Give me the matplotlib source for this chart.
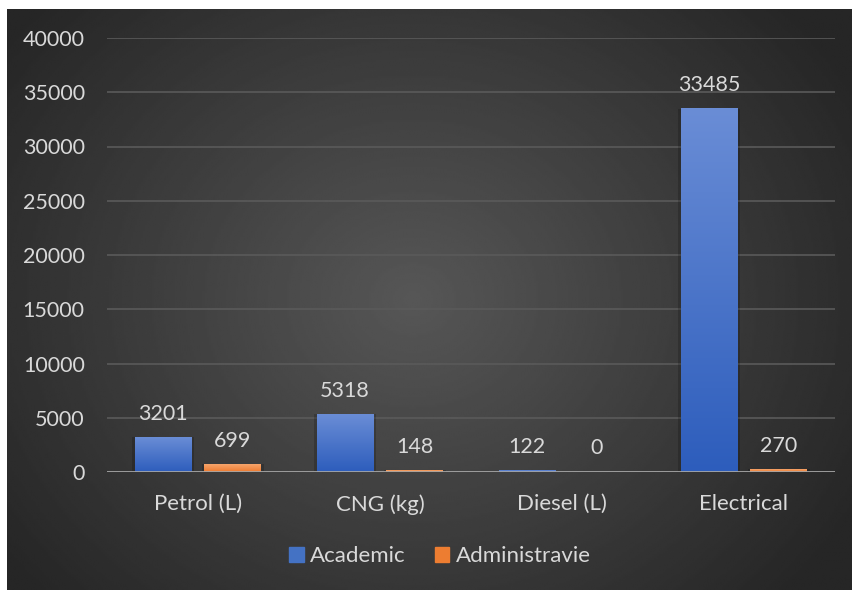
import numpy as np
import matplotlib.pyplot as plt
from matplotlib.colors import LinearSegmentedColormap
from matplotlib.patches import Rectangle

categories = ['Petrol (L)', 'CNG (kg)', 'Diesel (L)', 'Electrical']
academic = [3201, 5318, 122, 33485]
administrative = [699, 148, 0, 270]
series_names = ['Academic', 'Administravie']
y_ticks = [0, 5000, 10000, 15000, 20000, 25000, 30000, 35000, 40000]

TEXT = '#d9d9d9'
plt.rcParams['font.family'] = ['Lato', 'DejaVu Sans']

fig = plt.figure(figsize=(8.53, 5.90), dpi=100)
fig.patch.set_facecolor('white')

# dark radial background of the chart area
bg = fig.add_axes([7 / 853, 0, 845 / 853, 581 / 590])
yy, xx = np.mgrid[0:1:300j, 0:1:400j]
r = np.sqrt(((xx - 0.48) / 0.6) ** 2 + ((yy - 0.5) / 0.75) ** 2)
r = np.clip(r, 0, 1)
shade = 0.34 - 0.19 * r
bg.imshow(shade, cmap='gray', vmin=0, vmax=1, aspect='auto',
          extent=[0, 1, 0, 1], interpolation='bilinear')
bg.set_axis_off()

ax = fig.add_axes([107 / 853, 0.2, 728 / 853, (472 - 38) / 590])
ax.set_facecolor('none')

blue_cmap = LinearSegmentedColormap.from_list('b', ['#2d5dbc', '#6a8dd6'])
orange_cmap = LinearSegmentedColormap.from_list('o', ['#ee7a2e', '#f6a56c'])

x = np.arange(len(categories))
w = 0.313
off = 0.192
grad = np.linspace(0, 1, 256).reshape(-1, 1)[::-1]

def draw_bars(xs, vals, cmap):
    for xc, v in zip(xs, vals):
        if v > 0:
            # soft shadow
            ax.add_patch(Rectangle((xc - w / 2 - 0.012, 0), w + 0.024, v,
                                   facecolor='black', alpha=0.18, lw=0, zorder=2))
            ax.imshow(grad, cmap=cmap, aspect='auto', zorder=3,
                      extent=[xc - w / 2, xc + w / 2, 0, max(v, 60)],
                      vmin=0, vmax=1)
        ax.text(xc, v + 1250, f'{v}', ha='center', va='bottom',
                color=TEXT, fontsize=15.5, zorder=4)

draw_bars(x - off, academic, blue_cmap)
draw_bars(x + off, administrative, orange_cmap)

ax.set_xlim(-0.5, len(categories) - 0.5)
ax.set_ylim(0, 40000)
ax.set_yticks(y_ticks)
ax.set_yticklabels([str(t) for t in y_ticks])
ax.set_xticks(x)
ax.set_xticklabels(categories)
ax.tick_params(axis='both', length=0, colors=TEXT)
ax.tick_params(axis='y', pad=16, labelsize=15.5)
ax.tick_params(axis='x', pad=16, labelsize=16)
for t in y_ticks[1:]:
    ax.axhline(t, color='#5a5a5a', lw=1.2, zorder=1)
ax.axhline(0, color='#a6a6a6', lw=2, zorder=5)
for s in ax.spines.values():
    s.set_visible(False)

handles = [Rectangle((0, 0), 1, 1, color='#4472c4'),
           Rectangle((0, 0), 1, 1, color='#ed7d31')]
leg = fig.legend(handles, series_names, loc='center', bbox_to_anchor=(0.516, 1 - 556 / 590),
                 ncol=2, frameon=False, fontsize=16, handlelength=0.65, handleheight=0.65,
                 handletextpad=0.3, columnspacing=1.3)
for t in leg.get_texts():
    t.set_color(TEXT)

fig.savefig('out.png', dpi=100)
